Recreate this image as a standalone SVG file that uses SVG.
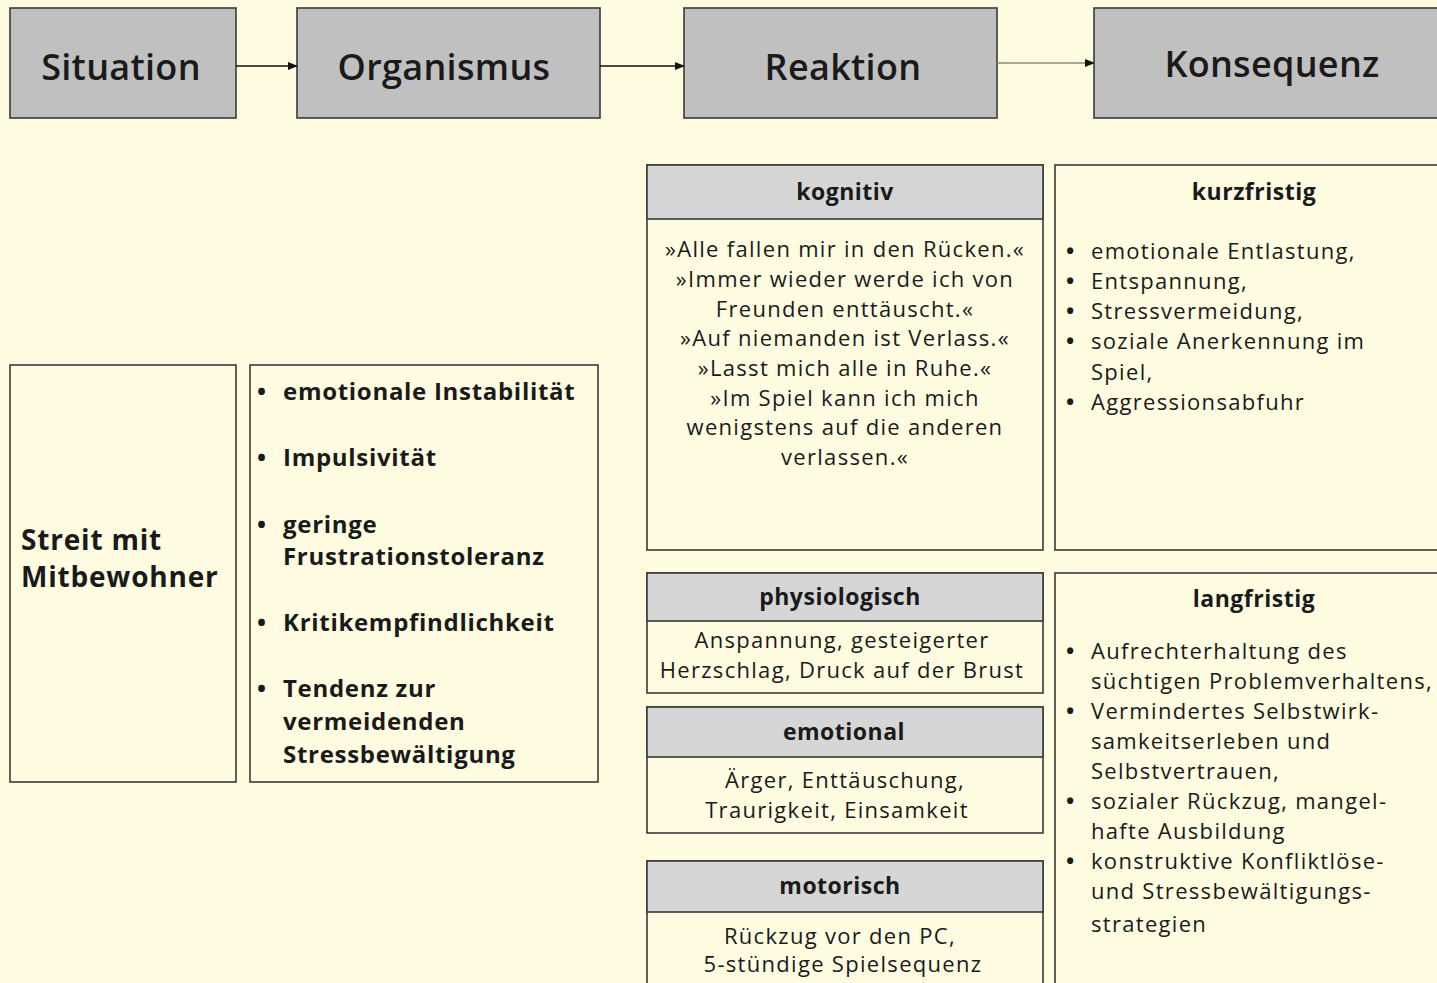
<svg xmlns="http://www.w3.org/2000/svg" width="1437" height="983" viewBox="0 0 1437 983">
<defs>
<marker id="ah" markerWidth="10" markerHeight="10" refX="9" refY="5" orient="auto" markerUnits="userSpaceOnUse">
<path d="M0,1 L10,5 L0,9 Z" fill="#111"/>
</marker>
<style>
.top{fill:#c0c0c0;stroke:#3a3a3a;stroke-width:1.6}
.box{fill:#fffce2;stroke:#3a3a3a;stroke-width:1.6}
.hdr{fill:#d6d6d6;stroke:#3a3a3a;stroke-width:1.6}
.tt{font-family:"Open Sans","Noto Sans",sans-serif;font-size:36px;font-weight:600;letter-spacing:0.3px;fill:#1a1a1a;text-anchor:middle}
.h{font-family:"Open Sans","Noto Sans",sans-serif;font-size:23px;font-weight:700;letter-spacing:0.5px;fill:#1a1a1a;text-anchor:middle}
.b{font-family:"Open Sans","Noto Sans",sans-serif;font-size:22px;letter-spacing:1.3px;fill:#1a1a1a}
.d{font-family:"Open Sans","Noto Sans",sans-serif;font-size:22px;font-weight:700;fill:#1a1a1a}
.c{text-anchor:middle}
.bb{font-family:"Open Sans","Noto Sans",sans-serif;font-size:24px;font-weight:700;letter-spacing:0.7px;fill:#1a1a1a}
.con{stroke:#111;stroke-width:1.6;fill:none}
</style>
</defs>
<rect width="1437" height="983" fill="#fffce2"/>

<g id="situation"><rect class="top" x="10" y="8" width="226" height="110"/><text class="tt" x="121" y="80">Situation</text></g>
<g id="organismus"><rect class="top" x="297" y="8" width="303" height="110"/><text class="tt" x="444" y="80">Organismus</text></g>
<g id="reaktion"><rect class="top" x="684" y="8" width="313" height="110"/><text class="tt" x="843" y="80">Reaktion</text></g>
<g id="konsequenz"><rect class="top" x="1094" y="8" width="360" height="110"/><text class="tt" x="1272" y="77">Konsequenz</text></g>

<g id="connectors">
<line class="con" x1="236" y1="66" x2="297" y2="66" marker-end="url(#ah)"/>
<line class="con" x1="600" y1="66" x2="684" y2="66" marker-end="url(#ah)"/>
<line class="con" x1="997" y1="63" x2="1094" y2="63" marker-end="url(#ah)" style="stroke:#8a8a80"/>
</g>

<g id="streit"><rect class="box" x="10" y="365" width="226" height="417"/>
<text class="bb" x="21" y="550" style="font-size:28px;letter-spacing:0.8px">Streit mit</text>
<text class="bb" x="21" y="587" style="font-size:28px;letter-spacing:0.8px">Mitbewohner</text></g>

<g id="organismus-list"><rect class="box" x="250" y="365" width="348" height="417"/>
<text class="bb" x="257" y="400">•</text><text class="bb" x="283" y="400">emotionale Instabilität</text>
<text class="bb" x="257" y="466">•</text><text class="bb" x="283" y="466">Impulsivität</text>
<text class="bb" x="257" y="533">•</text><text class="bb" x="283" y="533">geringe</text>
<text class="bb" x="283" y="565">Frustrationstoleranz</text>
<text class="bb" x="257" y="631">•</text><text class="bb" x="283" y="631">Kritikempfindlichkeit</text>
<text class="bb" x="257" y="697">•</text><text class="bb" x="283" y="697">Tendenz zur</text>
<text class="bb" x="283" y="730">vermeidenden</text>
<text class="bb" x="283" y="763">Stressbewältigung</text></g>

<g id="kognitiv"><rect class="box" x="647" y="165" width="396" height="385"/><rect class="hdr" x="647" y="165" width="396" height="54"/>
<text class="h" x="845" y="200">kognitiv</text>
<text class="b c" x="845" y="257">»Alle fallen mir in den Rücken.«</text>
<text class="b c" x="845" y="287">»Immer wieder werde ich von</text>
<text class="b c" x="845" y="317">Freunden enttäuscht.«</text>
<text class="b c" x="845" y="346">»Auf niemanden ist Verlass.«</text>
<text class="b c" x="845" y="376">»Lasst mich alle in Ruhe.«</text>
<text class="b c" x="845" y="406">»Im Spiel kann ich mich</text>
<text class="b c" x="845" y="435">wenigstens auf die anderen</text>
<text class="b c" x="845" y="465">verlassen.«</text></g>

<g id="kurzfristig"><rect class="box" x="1055" y="165" width="400" height="385"/>
<text class="h" x="1254" y="200">kurzfristig</text>
<text class="d" x="1066" y="259">•</text><text class="b" x="1091" y="259">emotionale Entlastung,</text>
<text class="d" x="1066" y="289">•</text><text class="b" x="1091" y="289">Entspannung,</text>
<text class="d" x="1066" y="319">•</text><text class="b" x="1091" y="319">Stressvermeidung,</text>
<text class="d" x="1066" y="349">•</text><text class="b" x="1091" y="349">soziale Anerkennung im</text>
<text class="b" x="1091" y="380">Spiel,</text>
<text class="d" x="1066" y="410">•</text><text class="b" x="1091" y="410">Aggressionsabfuhr</text></g>

<g id="physiologisch"><rect class="box" x="647" y="573" width="396" height="120"/><rect class="hdr" x="647" y="573" width="396" height="48"/>
<text class="h" x="840" y="605">physiologisch</text>
<text class="b c" x="842" y="648">Anspannung, gesteigerter</text>
<text class="b c" x="842" y="678">Herzschlag, Druck auf der Brust</text></g>

<g id="emotional"><rect class="box" x="647" y="707" width="396" height="126"/><rect class="hdr" x="647" y="707" width="396" height="50"/>
<text class="h" x="844" y="740">emotional</text>
<text class="b c" x="845" y="788">Ärger, Enttäuschung,</text>
<text class="b c" x="837" y="818">Traurigkeit, Einsamkeit</text></g>

<g id="motorisch"><rect class="box" x="647" y="861" width="396" height="140"/><rect class="hdr" x="647" y="861" width="396" height="51"/>
<text class="h" x="840" y="894">motorisch</text>
<text class="b c" x="840" y="944">Rückzug vor den PC,</text>
<text class="b c" x="843" y="972">5-stündige Spielsequenz</text></g>

<g id="langfristig"><rect class="box" x="1055" y="573" width="400" height="430"/>
<text class="h" x="1254" y="607">langfristig</text>
<text class="d" x="1066" y="659">•</text><text class="b" x="1091" y="659">Aufrechterhaltung des</text>
<text class="b" x="1091" y="689">süchtigen Problemverhaltens,</text>
<text class="d" x="1066" y="719">•</text><text class="b" x="1091" y="719">Vermindertes Selbstwirk-</text>
<text class="b" x="1091" y="749">samkeitserleben und</text>
<text class="b" x="1091" y="779">Selbstvertrauen,</text>
<text class="d" x="1066" y="809">•</text><text class="b" x="1091" y="809">sozialer Rückzug, mangel-</text>
<text class="b" x="1091" y="839">hafte Ausbildung</text>
<text class="d" x="1066" y="869">•</text><text class="b" x="1091" y="869">konstruktive Konfliktlöse-</text>
<text class="b" x="1091" y="899">und Stressbewältigungs-</text>
<text class="b" x="1091" y="932">strategien</text></g>
</svg>
